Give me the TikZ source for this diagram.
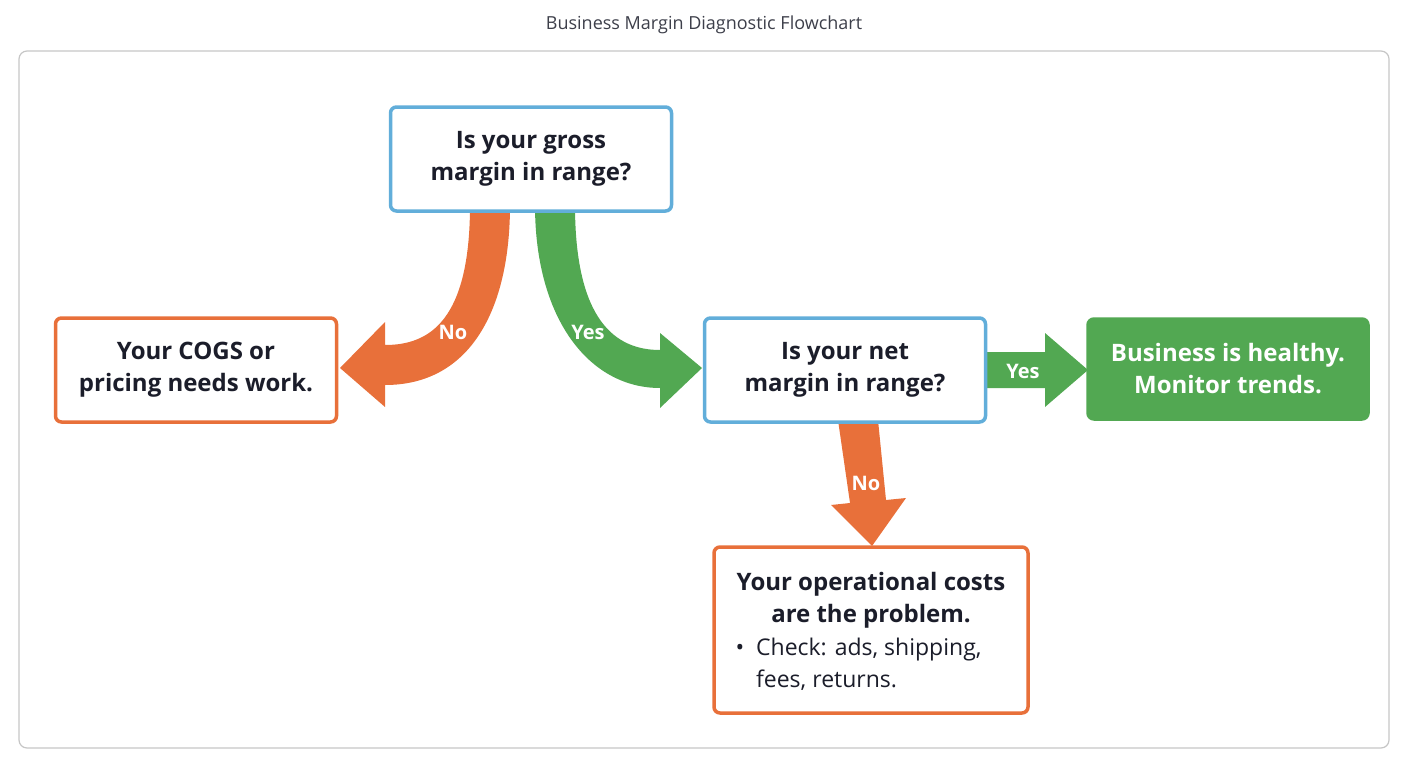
\documentclass[tikz,border=0pt]{standalone}
\usepackage{fontspec}
\setmainfont{Open Sans}
\begin{document}
\definecolor{bl}{HTML}{62AEDA}
\definecolor{or}{HTML}{E8703A}
\definecolor{gr}{HTML}{52A852}
\definecolor{tx}{HTML}{1B1D2A}
\begin{tikzpicture}[x=1pt,y=-1pt,
  box/.style={draw=#1,line width=3.5pt,rounded corners=6pt,fill=white,minimum width=281pt,minimum height=104pt,align=center,text=tx,font=\fontsize{24}{32}\selectfont\bfseries},
  lab/.style={text=white,font=\fontsize{20}{24}\selectfont\bfseries}]
\useasboundingbox (0,0) rectangle (1408,768);
\node[text=tx!85,font=\fontsize{18}{22}\selectfont] (title) at (704,25) {Business Margin Diagnostic Flowchart};
\draw[gray!45,line width=1.2pt,rounded corners=8pt] (19,51) rectangle (1389,748);
% arrows
\fill[or] (470,205) .. controls (470,320) and (430,345) .. (385,345) -- (385,322) -- (340,368) -- (385,407) -- (385,385) .. controls (470,385) and (510,310) .. (510,205) -- cycle;
\fill[gr] (575,205) .. controls (575,320) and (615,350) .. (660,350) -- (660,333) -- (702,368) -- (660,408) -- (660,388) .. controls (590,388) and (535,320) .. (535,205) -- cycle;
\fill[gr] (984,352) -- (1045,352) -- (1045,333) -- (1088,370) -- (1045,407) -- (1045,388) -- (984,388) -- cycle;
\fill[or] (838,420) -- (878,420) -- (886,500) -- (906,498) -- (872,546) -- (831,505) -- (850,503) -- cycle;
\node[box=bl] (q1) at (531,159) {Is your gross\\margin in range?};
\node[box=or] (c1) at (196,370) {Your COGS or\\pricing needs work.};
\node[box=bl] (q2) at (845,370) {Is your net\\margin in range?};
\node[box=gr,fill=gr,text=white,draw=gr,minimum height=100pt,minimum width=280pt] (ok) at (1228,369) {Business is healthy.\\Monitor trends.};
\node[box=or,minimum width=314pt,minimum height=166pt] (c2) at (871,630) {};
\node[text=tx,font=\fontsize{24}{32}\selectfont\bfseries,align=center] (c2t) at (871,600) {Your operational costs\\are the problem.};
\node[text=tx,font=\fontsize{23}{32}\selectfont,align=left,anchor=north west] (c2b) at (732,634) {\textbullet\ \ Check: ads, shipping,\\\phantom{\textbullet\ \ }fees, returns.};
\node[lab] (l1) at (453,332) {No};
\node[lab] (l2) at (588,332) {Yes};
\node[lab] (l3) at (1023,371) {Yes};
\node[lab] (l4) at (866,483) {No};
\end{tikzpicture}
\end{document}
